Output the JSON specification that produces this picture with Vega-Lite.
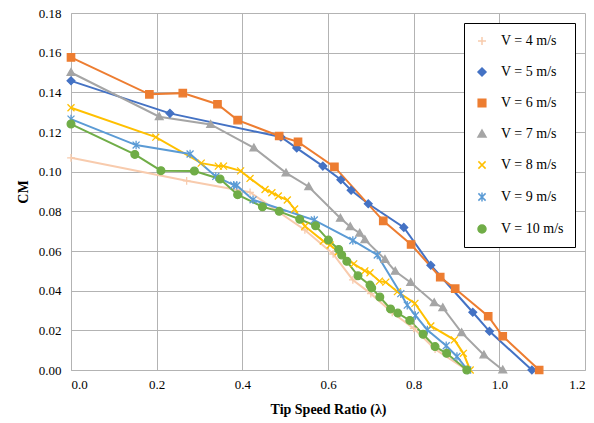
{
  "$schema": "https://vega.github.io/schema/vega-lite/v6.json",
  "width": 514,
  "height": 357,
  "autosize": {"type": "none"},
  "padding": {"left": 71, "top": 13, "right": 9, "bottom": 53},
  "background": "white",
  "config": {
    "view": {"stroke": null},
    "font": "Liberation Serif",
    "axis": {
      "labelFont": "Liberation Serif",
      "labelFontSize": 13,
      "labelColor": "#000000",
      "titleFont": "Liberation Serif",
      "titleFontSize": 14,
      "titleFontWeight": "bold",
      "titleColor": "#000000",
      "gridColor": "#B3B3B3",
      "gridWidth": 1,
      "domainColor": "#B3B3B3",
      "ticks": false
    },
    "legend": {"labelFont": "Liberation Serif"}
  },
  "data": {
    "values": [
      {"s": "V = 4 m/s", "x": 0, "y": 0.107},
      {"s": "V = 4 m/s", "x": 0.27, "y": 0.0954},
      {"s": "V = 4 m/s", "x": 0.418, "y": 0.0896},
      {"s": "V = 4 m/s", "x": 0.546, "y": 0.0706},
      {"s": "V = 4 m/s", "x": 0.612, "y": 0.0585},
      {"s": "V = 4 m/s", "x": 0.658, "y": 0.0454},
      {"s": "V = 4 m/s", "x": 0.70, "y": 0.0385},
      {"s": "V = 4 m/s", "x": 0.75, "y": 0.029},
      {"s": "V = 4 m/s", "x": 0.80, "y": 0.021},
      {"s": "V = 4 m/s", "x": 0.85, "y": 0.0105},
      {"s": "V = 4 m/s", "x": 0.924, "y": 0},

      {"s": "V = 5 m/s", "x": 0, "y": 0.1458},
      {"s": "V = 5 m/s", "x": 0.231, "y": 0.1294},
      {"s": "V = 5 m/s", "x": 0.49, "y": 0.1175},
      {"s": "V = 5 m/s", "x": 0.527, "y": 0.1119},
      {"s": "V = 5 m/s", "x": 0.588, "y": 0.1028},
      {"s": "V = 5 m/s", "x": 0.630, "y": 0.0959},
      {"s": "V = 5 m/s", "x": 0.654, "y": 0.0906},
      {"s": "V = 5 m/s", "x": 0.694, "y": 0.0838},
      {"s": "V = 5 m/s", "x": 0.777, "y": 0.0719},
      {"s": "V = 5 m/s", "x": 0.840, "y": 0.0528},
      {"s": "V = 5 m/s", "x": 0.938, "y": 0.0291},
      {"s": "V = 5 m/s", "x": 0.977, "y": 0.0195},
      {"s": "V = 5 m/s", "x": 1.076, "y": 0},

      {"s": "V = 6 m/s", "x": 0, "y": 0.1576},
      {"s": "V = 6 m/s", "x": 0.183, "y": 0.139},
      {"s": "V = 6 m/s", "x": 0.261, "y": 0.1396},
      {"s": "V = 6 m/s", "x": 0.342, "y": 0.134},
      {"s": "V = 6 m/s", "x": 0.389, "y": 0.126},
      {"s": "V = 6 m/s", "x": 0.486, "y": 0.118},
      {"s": "V = 6 m/s", "x": 0.530, "y": 0.115},
      {"s": "V = 6 m/s", "x": 0.615, "y": 0.1024},
      {"s": "V = 6 m/s", "x": 0.729, "y": 0.0752},
      {"s": "V = 6 m/s", "x": 0.794, "y": 0.0633},
      {"s": "V = 6 m/s", "x": 0.862, "y": 0.0468},
      {"s": "V = 6 m/s", "x": 0.897, "y": 0.041},
      {"s": "V = 6 m/s", "x": 0.974, "y": 0.0271},
      {"s": "V = 6 m/s", "x": 1.008, "y": 0.017},
      {"s": "V = 6 m/s", "x": 1.093, "y": 0},

      {"s": "V = 7 m/s", "x": 0, "y": 0.150},
      {"s": "V = 7 m/s", "x": 0.206, "y": 0.1277},
      {"s": "V = 7 m/s", "x": 0.326, "y": 0.1238},
      {"s": "V = 7 m/s", "x": 0.427, "y": 0.112},
      {"s": "V = 7 m/s", "x": 0.502, "y": 0.0994},
      {"s": "V = 7 m/s", "x": 0.555, "y": 0.0924},
      {"s": "V = 7 m/s", "x": 0.629, "y": 0.0765},
      {"s": "V = 7 m/s", "x": 0.652, "y": 0.0722},
      {"s": "V = 7 m/s", "x": 0.674, "y": 0.069},
      {"s": "V = 7 m/s", "x": 0.686, "y": 0.0657},
      {"s": "V = 7 m/s", "x": 0.733, "y": 0.0558},
      {"s": "V = 7 m/s", "x": 0.757, "y": 0.0498},
      {"s": "V = 7 m/s", "x": 0.793, "y": 0.0441},
      {"s": "V = 7 m/s", "x": 0.848, "y": 0.0339},
      {"s": "V = 7 m/s", "x": 0.868, "y": 0.0314},
      {"s": "V = 7 m/s", "x": 0.912, "y": 0.0188},
      {"s": "V = 7 m/s", "x": 0.964, "y": 0.0076},
      {"s": "V = 7 m/s", "x": 1.008, "y": 0},

      {"s": "V = 8 m/s", "x": 0, "y": 0.1322},
      {"s": "V = 8 m/s", "x": 0.198, "y": 0.1174},
      {"s": "V = 8 m/s", "x": 0.304, "y": 0.1043},
      {"s": "V = 8 m/s", "x": 0.344, "y": 0.1028},
      {"s": "V = 8 m/s", "x": 0.356, "y": 0.1028},
      {"s": "V = 8 m/s", "x": 0.396, "y": 0.1004},
      {"s": "V = 8 m/s", "x": 0.418, "y": 0.0966},
      {"s": "V = 8 m/s", "x": 0.453, "y": 0.091},
      {"s": "V = 8 m/s", "x": 0.469, "y": 0.0894},
      {"s": "V = 8 m/s", "x": 0.484, "y": 0.0877},
      {"s": "V = 8 m/s", "x": 0.505, "y": 0.0857},
      {"s": "V = 8 m/s", "x": 0.522, "y": 0.0812},
      {"s": "V = 8 m/s", "x": 0.546, "y": 0.0725},
      {"s": "V = 8 m/s", "x": 0.589, "y": 0.065},
      {"s": "V = 8 m/s", "x": 0.605, "y": 0.063},
      {"s": "V = 8 m/s", "x": 0.624, "y": 0.0596},
      {"s": "V = 8 m/s", "x": 0.660, "y": 0.0535},
      {"s": "V = 8 m/s", "x": 0.686, "y": 0.050},
      {"s": "V = 8 m/s", "x": 0.698, "y": 0.049},
      {"s": "V = 8 m/s", "x": 0.720, "y": 0.0448},
      {"s": "V = 8 m/s", "x": 0.735, "y": 0.0443},
      {"s": "V = 8 m/s", "x": 0.762, "y": 0.0395},
      {"s": "V = 8 m/s", "x": 0.803, "y": 0.0336},
      {"s": "V = 8 m/s", "x": 0.840, "y": 0.0222},
      {"s": "V = 8 m/s", "x": 0.895, "y": 0.0152},
      {"s": "V = 8 m/s", "x": 0.916, "y": 0.0084},
      {"s": "V = 8 m/s", "x": 0.932, "y": 0},

      {"s": "V = 9 m/s", "x": 0, "y": 0.1265},
      {"s": "V = 9 m/s", "x": 0.152, "y": 0.1134},
      {"s": "V = 9 m/s", "x": 0.278, "y": 0.1089},
      {"s": "V = 9 m/s", "x": 0.338, "y": 0.0976},
      {"s": "V = 9 m/s", "x": 0.380, "y": 0.0932},
      {"s": "V = 9 m/s", "x": 0.387, "y": 0.0930},
      {"s": "V = 9 m/s", "x": 0.425, "y": 0.0858},
      {"s": "V = 9 m/s", "x": 0.568, "y": 0.0756},
      {"s": "V = 9 m/s", "x": 0.658, "y": 0.0653},
      {"s": "V = 9 m/s", "x": 0.715, "y": 0.058},
      {"s": "V = 9 m/s", "x": 0.770, "y": 0.0385},
      {"s": "V = 9 m/s", "x": 0.785, "y": 0.0327},
      {"s": "V = 9 m/s", "x": 0.804, "y": 0.0275},
      {"s": "V = 9 m/s", "x": 0.832, "y": 0.0202},
      {"s": "V = 9 m/s", "x": 0.876, "y": 0.0122},
      {"s": "V = 9 m/s", "x": 0.901, "y": 0.0068},
      {"s": "V = 9 m/s", "x": 0.926, "y": 0},

      {"s": "V = 10 m/s", "x": 0, "y": 0.124},
      {"s": "V = 10 m/s", "x": 0.149, "y": 0.1087},
      {"s": "V = 10 m/s", "x": 0.210, "y": 0.1005},
      {"s": "V = 10 m/s", "x": 0.288, "y": 0.1003},
      {"s": "V = 10 m/s", "x": 0.348, "y": 0.0963},
      {"s": "V = 10 m/s", "x": 0.389, "y": 0.0884},
      {"s": "V = 10 m/s", "x": 0.447, "y": 0.0823},
      {"s": "V = 10 m/s", "x": 0.486, "y": 0.080},
      {"s": "V = 10 m/s", "x": 0.534, "y": 0.076},
      {"s": "V = 10 m/s", "x": 0.571, "y": 0.0727},
      {"s": "V = 10 m/s", "x": 0.601, "y": 0.0655},
      {"s": "V = 10 m/s", "x": 0.625, "y": 0.0608},
      {"s": "V = 10 m/s", "x": 0.632, "y": 0.058},
      {"s": "V = 10 m/s", "x": 0.644, "y": 0.0548},
      {"s": "V = 10 m/s", "x": 0.670, "y": 0.0475},
      {"s": "V = 10 m/s", "x": 0.698, "y": 0.0428},
      {"s": "V = 10 m/s", "x": 0.702, "y": 0.0414},
      {"s": "V = 10 m/s", "x": 0.721, "y": 0.0368},
      {"s": "V = 10 m/s", "x": 0.746, "y": 0.0308},
      {"s": "V = 10 m/s", "x": 0.763, "y": 0.0287},
      {"s": "V = 10 m/s", "x": 0.791, "y": 0.025},
      {"s": "V = 10 m/s", "x": 0.822, "y": 0.018},
      {"s": "V = 10 m/s", "x": 0.850, "y": 0.0118},
      {"s": "V = 10 m/s", "x": 0.877, "y": 0.0084},
      {"s": "V = 10 m/s", "x": 0.924, "y": 0}
    ]
  },
  "encoding": {
    "x": {
      "field": "x", "type": "quantitative",
      "scale": {"domain": [0, 1.2], "nice": false},
      "axis": {"values": [0, 0.2, 0.4, 0.6, 0.8, 1.0, 1.2], "format": ".1f", "labelFont": "Liberation Serif", "labelFontSize": 13, "labelPadding": 8, "title": "Tip Speed Ratio (λ)", "titlePadding": 11, "grid": true}
    },
    "y": {
      "field": "y", "type": "quantitative",
      "scale": {"domain": [0, 0.18], "nice": false},
      "axis": {"values": [0, 0.02, 0.04, 0.06, 0.08, 0.1, 0.12, 0.14, 0.16, 0.18], "format": ".2f", "labelFont": "Liberation Serif", "labelFontSize": 13, "labelPadding": 10, "title": "CM", "titlePadding": 8, "grid": true}
    }
  },
  "resolve": {"legend": {"color": "independent", "shape": "independent", "stroke": "independent"}},
  "layer": [
    {
      "mark": {"type": "line", "strokeWidth": 2},
      "encoding": {
        "color": {
          "field": "s", "type": "nominal", "legend": null,
          "scale": {
            "domain": ["V = 4 m/s", "V = 5 m/s", "V = 6 m/s", "V = 7 m/s", "V = 8 m/s", "V = 9 m/s", "V = 10 m/s"],
            "range": ["#F8CBAD", "#4472C4", "#ED7D31", "#A5A5A5", "#FFC000", "#5B9BD5", "#70AD47"]
          }
        }
      }
    },
    {
      "mark": {"type": "point", "filled": true, "size": 60, "strokeWidth": 1.3, "opacity": 1},
      "encoding": {
        "color": {
          "field": "s", "type": "nominal",
          "scale": {
            "domain": ["V = 4 m/s", "V = 5 m/s", "V = 6 m/s", "V = 7 m/s", "V = 8 m/s", "V = 9 m/s", "V = 10 m/s"],
            "range": ["#F8CBAD", "#4472C4", "#ED7D31", "#A5A5A5", "#FFC000", "#5B9BD5", "#70AD47"]
          },
          "legend": {
            "title": null,
            "orient": "top-right",
            "offset": 10,
            "padding": 11,
            "strokeColor": "#000000",
            "fillColor": "#FFFFFF",
            "labelFont": "Liberation Serif",
            "labelFontSize": 14,
            "labelColor": "#000000",
            "symbolSize": 64,
            "symbolStrokeWidth": 1.5,
            "labelOffset": 12,
            "rowPadding": 17
          }
        },
        "stroke": {
          "field": "s", "type": "nominal",
          "scale": {
            "domain": ["V = 4 m/s", "V = 5 m/s", "V = 6 m/s", "V = 7 m/s", "V = 8 m/s", "V = 9 m/s", "V = 10 m/s"],
            "range": ["#F8CBAD", "#4472C4", "#ED7D31", "#A5A5A5", "#FFC000", "#5B9BD5", "#70AD47"]
          }
        },
        "shape": {
          "field": "s", "type": "nominal",
          "scale": {
            "domain": ["V = 4 m/s", "V = 5 m/s", "V = 6 m/s", "V = 7 m/s", "V = 8 m/s", "V = 9 m/s", "V = 10 m/s"],
            "range": ["M-1,0H1M0,-1V1", "M0,-1L1,0L0,1L-1,0Z", "M-0.95,-0.95H0.95V0.95H-0.95Z", "M0,-1L1,0.75L-1,0.75Z", "M-0.9,-0.9L0.9,0.9M-0.9,0.9L0.9,-0.9", "M-0.9,-0.9L0.9,0.9M-0.9,0.9L0.9,-0.9M0,-1.1V1.1", "circle"]
          }
        }
      }
    }
  ]
}
